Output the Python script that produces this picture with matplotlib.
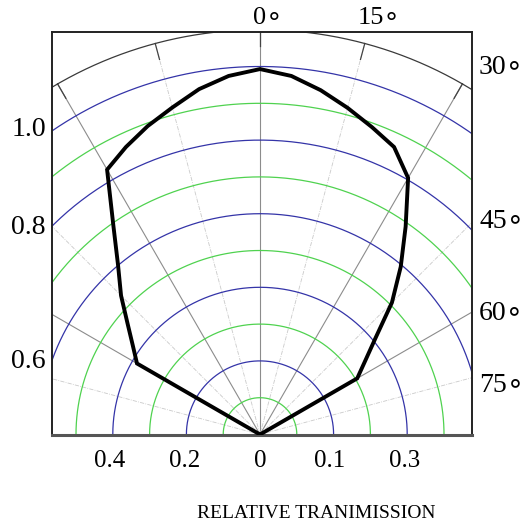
import numpy as np
import matplotlib

matplotlib.use("Agg")
import matplotlib.pyplot as plt

# polar pattern, angle from vertical (deg) and radius in ring units
angles = [-90, -60, -55, -50, -45, -40, -35, -30, -25, -20, -15, -10, -5,
          0, 5, 10, 15, 20, 25, 30, 35, 40, 45, 50, 55, 60, 90]
radius = [0, 3.86, 4.22, 4.70, 5.34, 6.00, 6.95, 8.31, 8.62, 8.92, 9.20, 9.53, 9.78,
          9.93, 9.78, 9.50, 9.19, 8.89, 8.62, 8.05, 6.90, 5.95, 5.07, 4.11, 3.49, 3.05, 0]

ring_radii = [1, 2, 3, 4, 5, 6, 7, 8, 9, 10, 11]
ring_colors = ["green", "blue", "green", "blue", "green", "blue",
               "green", "blue", "green", "blue", "black"]
spoke_angles = [-90, -75, -60, -45, -30, -15, 0, 15, 30, 45, 60, 75, 90]

left_labels = ["1.0", "0.8", "0.6"]
right_labels = ["30\u2218", "45\u2218", "60\u2218", "75\u2218"]
top_labels = ["0\u2218", "15\u2218"]
bottom_labels = ["0.4", "0.2", "0", "0.1", "0.3"]
xlabel = "RELATIVE TRANIMISSION"

_BLUE = "#3434a8"
_GREEN = "#4fd24f"
_COLORS = {"green": _GREEN, "blue": _BLUE, "black": "#3a3a3a"}
_FONT = ["Liberation Serif", "DejaVu Sans"]

W, H = 523, 531
fig = plt.figure(figsize=(W / 100, H / 100), dpi=100)

# axes box in pixels: x 52..471.5, y 32..435 ; origin at (260, 434.5), ring = 36.8 px
px_l, px_r, px_t, px_b = 52, 471.5, 32, 435
ox, oy, unit = 260, 434.5, 36.8
ax = fig.add_axes([px_l / W, 1 - px_b / H, (px_r - px_l) / W, (px_b - px_t) / H])
ax.set_xlim((px_l - ox) / unit, (px_r - ox) / unit)
ax.set_ylim((oy - px_b) / unit, (oy - px_t) / unit)
ax.set_xticks([])
ax.set_yticks([])
for spine in ax.spines.values():
    spine.set_color("#222222")
    spine.set_linewidth(1.4)
ax.spines["bottom"].set_color("#555555")
ax.spines["bottom"].set_linewidth(2.2)

# spokes
for a in spoke_angles:
    t = np.deg2rad(a)
    x, y = 11 * np.sin(t), 11 * np.cos(t)
    if a % 30 == 0:
        ax.plot([0, x], [0, y], color="#8c8c8c", lw=0.8, zorder=1)
    else:
        ax.plot([0, x], [0, y], color="#cacaca", lw=0.6, dashes=(5, 1.5, 1, 1.5), zorder=1)
    ax.plot([10.55 * np.sin(t), x], [10.55 * np.cos(t), y], color="#444444", lw=0.9, zorder=1)

# rings
th = np.linspace(-np.pi / 2, np.pi / 2, 400)
for r, c in zip(ring_radii, ring_colors):
    ax.plot(r * np.sin(th), r * np.cos(th), color=_COLORS[c], lw=0.9, zorder=2)

# pattern
t = np.deg2rad(angles)
r = np.array(radius)
ax.plot(r * np.sin(t), r * np.cos(t), color="black", lw=2.8, solid_joinstyle="miter", zorder=3)


def put(x, y, s, size, ha="center"):
    fig.text(x / W, 1 - y / H, s, ha=ha, va="center", fontsize=size, family=_FONT)


for s, y in zip(left_labels, [129, 228, 362]):
    put(46, y, s, 20, ha="right")
for s, y in zip(right_labels, [68, 221, 314, 385]):
    put(479, y, s, 20, ha="left")
for s, x in zip(top_labels, [253, 358]):
    put(x, 18, s, 19, ha="left")
for s, x in zip(bottom_labels, [110, 185, 260, 330, 405]):
    put(x, 461, s, 18)
put(316, 513, xlabel, 14)

fig.savefig("out.png", dpi=100, facecolor="white")
